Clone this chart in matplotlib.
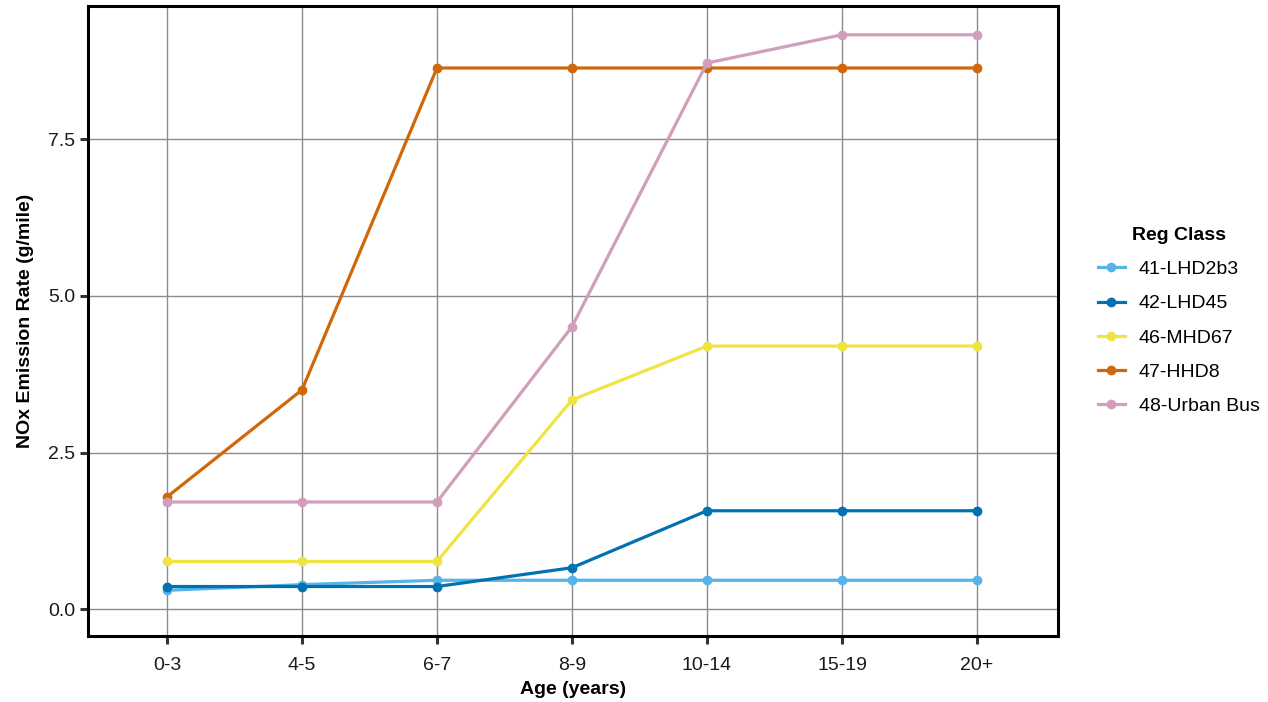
import matplotlib.pyplot as plt

plt.rcParams['font.family'] = ['Liberation Sans', 'DejaVu Sans']

# age groups and NOx emission rates (g/mile) per reg class
ages = ['0-3', '4-5', '6-7', '8-9', '10-14', '15-19', '20+']
lhd2b3 = [0.30, 0.39, 0.46, 0.46, 0.46, 0.46, 0.46]
lhd45 = [0.36, 0.36, 0.36, 0.66, 1.57, 1.57, 1.57]
mhd67 = [0.76, 0.76, 0.76, 3.34, 4.20, 4.20, 4.20]
hhd8 = [1.79, 3.50, 8.64, 8.64, 8.64, 8.64, 8.64]
urban_bus = [1.71, 1.71, 1.71, 4.51, 8.72, 9.17, 9.17]

names = ['41-LHD2b3', '42-LHD45', '46-MHD67', '47-HHD8', '48-Urban Bus']
colors = ['#56B4E9', '#0072B2', '#F0E442', '#D0680A', '#D19EBB']
series = [lhd2b3, lhd45, mhd67, hhd8, urban_bus]

fig = plt.figure(figsize=(12.68, 7.02), dpi=100)
ax = fig.add_axes([88 / 1268, 66 / 702, 970 / 1268, 630 / 702])

x = list(range(len(ages)))
for vals, name, c in zip(series, names, colors):
    ax.plot(x, vals, color=c, lw=2.3, marker='o', ms=6, label=name, zorder=3)

ax.set_xlim(-0.585, 6.6)
ax.set_ylim(-0.43, 9.63)
ax.set_xticks(x)
ax.set_xticklabels(ages)
ax.set_yticks([0, 2.5, 5.0, 7.5])
ax.set_yticklabels(['0.0', '2.5', '5.0', '7.5'])

ax.grid(True, color='#8c8c8c', lw=1)
ax.set_axisbelow(True)
for s in ax.spines.values():
    s.set_linewidth(2.2)
    s.set_color('black')
ax.tick_params(axis='both', length=6, width=2.2, color='#333333',
               labelsize=14, labelcolor='#1a1a1a')
ax.tick_params(axis='x', pad=9)
ax.tick_params(axis='y', pad=3)

ax.set_xlabel('Age (years)', fontsize=14, fontweight='bold', labelpad=5)
ax.set_ylabel('NOx Emission Rate (g/mile)', fontsize=14, fontweight='bold', labelpad=10)

leg = ax.legend(title='Reg Class', loc='center left', bbox_to_anchor=(1.023, 0.5),
                frameon=False, fontsize=14, title_fontsize=14,
                handlelength=1.4, labelspacing=0.85, handletextpad=0.7)
leg.get_title().set_fontweight('bold')

fig.savefig('out.png', dpi=100)
